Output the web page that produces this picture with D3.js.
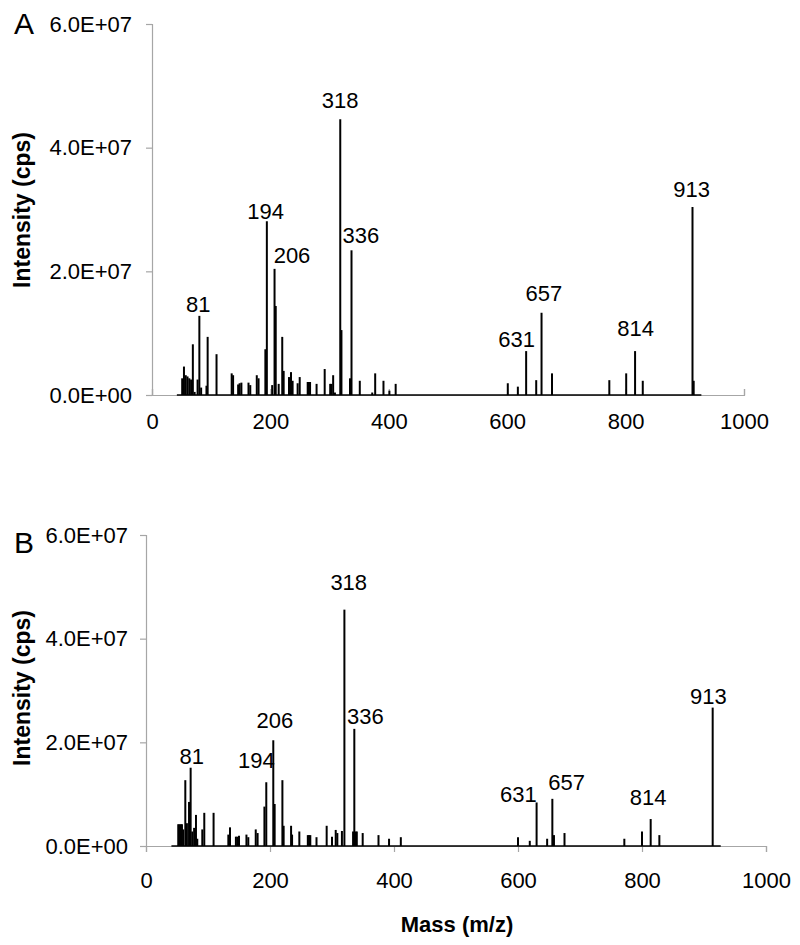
<!DOCTYPE html>
<html>
<head>
<meta charset="utf-8">
<script src="https://cdn.jsdelivr.net/npm/d3@7"></script>
<style>
  body { margin: 0; background: #fff; }
  svg { display: block; font-family: "Liberation Sans", Arial, sans-serif; }
</style>
</head>
<body>
<div id="chartDiv"></div>
<script>
// ---- data ----
var massTicks = [0, 200, 400, 600, 800, 1000];
var intensityTicks = [0, 2e7, 4e7, 6e7];

var baseMassA = [42, 928];
var massA = [51, 54, 57, 60, 63, 66, 69, 72, 77, 80, 83, 92, 94, 109, 134.6, 137, 145.5, 148, 151,
    163, 166, 177, 180, 191.5, 194, 203, 207, 209, 214, 220, 222.4, 231.4, 234.8, 237.5, 246,
    249.5, 263, 265, 267, 278, 291.7, 301, 303, 306, 309, 318, 320, 334.5, 337, 351, 372, 377,
    391, 401, 411.6, 601, 618, 632, 649, 658, 675.7, 772.5, 801, 816, 829, 913, 915];
var intensityA = [2.7e6, 4.6e6, 3.2e6, 3.0e6, 2.7e6, 2.5e6, 8.2e6, 0.5e6, 2.5e6, 1.28e7, 1.2e6, 1.5e6,
    9.4e6, 6.6e6, 3.5e6, 3.2e6, 1.7e6, 1.9e6, 2.0e6, 2.0e6, 1.6e6, 3.2e6, 2.7e6, 7.4e6, 2.81e7,
    1.6e6, 2.04e7, 1.44e7, 1.8e6, 9.4e6, 3.9e6, 2.9e6, 3.7e6, 2.3e6, 1.9e6, 2.9e6, 2.1e6, 2.1e6,
    2.1e6, 1.8e6, 4.2e6, 1.8e6, 1.8e6, 3.2e6, 0.4e6, 4.46e7, 1.05e7, 2.7e6, 2.34e7, 2.3e6, 0.4e6,
    3.5e6, 2.3e6, 0.7e6, 1.8e6, 1.9e6, 1.35e6, 7.1e6, 2.4e6, 1.33e7, 3.5e6, 2.4e6, 3.5e6, 7.1e6,
    2.3e6, 3.04e7, 2.3e6];
var labelTextA = ["81", "194", "206", "318", "336", "631", "657", "814", "913"];
var labelMassA = [78, 192, 236.5, 317.6, 353, 616, 662, 817, 911.6];
var labelIntA = [1.35e7, 2.85e7, 2.13e7, 4.64e7, 2.46e7, 7.7e6, 1.52e7, 9.5e6, 3.2e7];

var baseMassB = [41, 927];
var massB = [52, 54, 56, 58, 60, 63.4, 66, 69.4, 72, 74.6, 77.6, 80.6, 82.7, 90.8, 94, 109, 132.8,
    135.5, 145, 147.5, 150, 162, 165, 177, 180, 191, 194, 205.3, 207.5, 220, 222, 234, 235.6,
    247.3, 261, 263, 265, 275, 291.4, 300, 306, 308.6, 316, 320, 334, 336, 338, 340, 349.5, 375,
    392, 411, 600, 619, 630, 647, 655.4, 658, 675, 771.5, 800, 814, 828, 914];
var intensityB = [4.2e6, 4.2e6, 4.2e6, 4.2e6, 3.2e6, 1.27e7, 4.4e6, 8.5e6, 1.51e7, 2.8e6, 3.5e6, 6.0e6,
    1.4e6, 3.2e6, 6.4e6, 6.4e6, 2.2e6, 3.6e6, 1.8e6, 1.8e6, 2.0e6, 2.2e6, 1.7e6, 3.2e6, 2.5e6,
    7.6e6, 1.23e7, 2.04e7, 8.1e6, 1.27e7, 3.9e6, 3.9e6, 2.2e6, 2.8e6, 2.1e6, 2.1e6, 2.1e6, 1.7e6,
    3.9e6, 1.8e6, 3.1e6, 2.5e6, 2.9e6, 4.56e7, 2.8e6, 2.26e7, 2.8e6, 2.8e6, 2.5e6, 2.1e6, 1.4e6,
    1.7e6, 1.7e6, 1.0e6, 8.4e6, 1.4e6, 9.1e6, 2.1e6, 2.5e6, 1.4e6, 2.8e6, 5.2e6, 2.1e6, 2.67e7];
var labelTextB = ["81", "194", "206", "318", "336", "631", "657", "814", "913"];
var labelMassB = [73.7, 178, 208, 327, 354, 600.5, 678.5, 810, 907];
var labelIntB = [1.59e7, 1.51e7, 2.27e7, 4.94e7, 2.35e7, 8.5e6, 1.08e7, 7.9e6, 2.73e7];

// ---- drawing ----
var axisGrey = "#a6a6a6";

function sciFormat(v) {
    var e = v === 0 ? 0 : Math.floor(Math.log10(v));
    var m = v / Math.pow(10, e);
    return m.toFixed(1) + "E+" + String(e).padStart(2, "0");
}

var svg = d3.select("#chartDiv")
    .append("svg")
    .attr("width", 800)
    .attr("height", 945);

function drawPanel(p) {
    var x = d3.scaleLinear().domain([0, 1000]).range(p.xRange);
    var y = d3.scaleLinear().domain([0, 6e7]).range(p.yRange);
    var g = svg.append("g");

    // y axis
    var ya = g.append("g")
        .attr("transform", "translate(" + p.xRange[0] + ",0)")
        .call(d3.axisLeft(y).tickValues(intensityTicks).tickSize(6).tickPadding(p.yPad).tickFormat(sciFormat));
    // x axis
    var xa = g.append("g")
        .attr("transform", "translate(0," + p.yRange[0] + ")")
        .call(d3.axisBottom(x).tickValues(massTicks).tickSize(p.xTick).tickPadding(0).tickFormat(d3.format("d")));

    [ya, xa].forEach(function(a) {
        a.select(".domain").attr("stroke", axisGrey).attr("stroke-width", 1.2);
        a.selectAll(".tick line").attr("stroke", axisGrey).attr("stroke-width", 1.2);
        a.selectAll(".tick text").attr("fill", "#000").style("font-size", "22px");
    });
    xa.selectAll(".tick text").attr("y", p.xLabelY).attr("dy", null);

    // spectrum baseline
    g.append("line")
        .attr("x1", x(p.base[0])).attr("x2", x(p.base[1]))
        .attr("y1", y(0)).attr("y2", y(0))
        .attr("stroke", "#000").attr("stroke-width", 1.6);

    // peaks
    g.selectAll(".peak")
        .data(p.mass.map(function(m, i) { return { m: m, v: p.ints[i] }; }))
        .enter().append("line")
        .attr("class", "peak")
        .attr("x1", function(d) { return x(d.m); })
        .attr("x2", function(d) { return x(d.m); })
        .attr("y1", y(0))
        .attr("y2", function(d) { return y(d.v); })
        .attr("stroke", "#000")
        .attr("stroke-width", 2);

    // peak labels
    g.selectAll(".plabel")
        .data(p.labels.map(function(t, i) { return { t: t, m: p.lMass[i], v: p.lInt[i] }; }))
        .enter().append("text")
        .attr("class", "plabel")
        .attr("x", function(d) { return x(d.m); })
        .attr("y", function(d) { return y(d.v); })
        .attr("text-anchor", "middle")
        .style("font-size", "22px")
        .text(function(d) { return d.t; });

    // y title
    g.append("text")
        .attr("transform", "translate(30," + p.titleY + ")rotate(-90)")
        .attr("text-anchor", "middle")
        .style("font-size", "23px")
        .style("font-weight", "bold")
        .text("Intensity (cps)");

    // panel letter
    g.append("text")
        .attr("x", 14)
        .attr("y", p.letterY)
        .style("font-size", "30px")
        .text(p.letter);
}

drawPanel({
    letter: "A", letterY: 34,
    xRange: [152, 744], yRange: [395, 24],
    xTick: -6, xLabelY: 34, yPad: 14, titleY: 210,
    base: baseMassA, mass: massA, ints: intensityA,
    labels: labelTextA, lMass: labelMassA, lInt: labelIntA
});

drawPanel({
    letter: "B", letterY: 553,
    xRange: [146, 766], yRange: [846, 535],
    xTick: 6, xLabelY: 42, yPad: 12, titleY: 688,
    base: baseMassB, mass: massB, ints: intensityB,
    labels: labelTextB, lMass: labelMassB, lInt: labelIntB
});

svg.append("text")
    .attr("x", 457)
    .attr("y", 932)
    .attr("text-anchor", "middle")
    .style("font-size", "22px")
    .style("font-weight", "bold")
    .text("Mass (m/z)");
</script>
</body>
</html>
